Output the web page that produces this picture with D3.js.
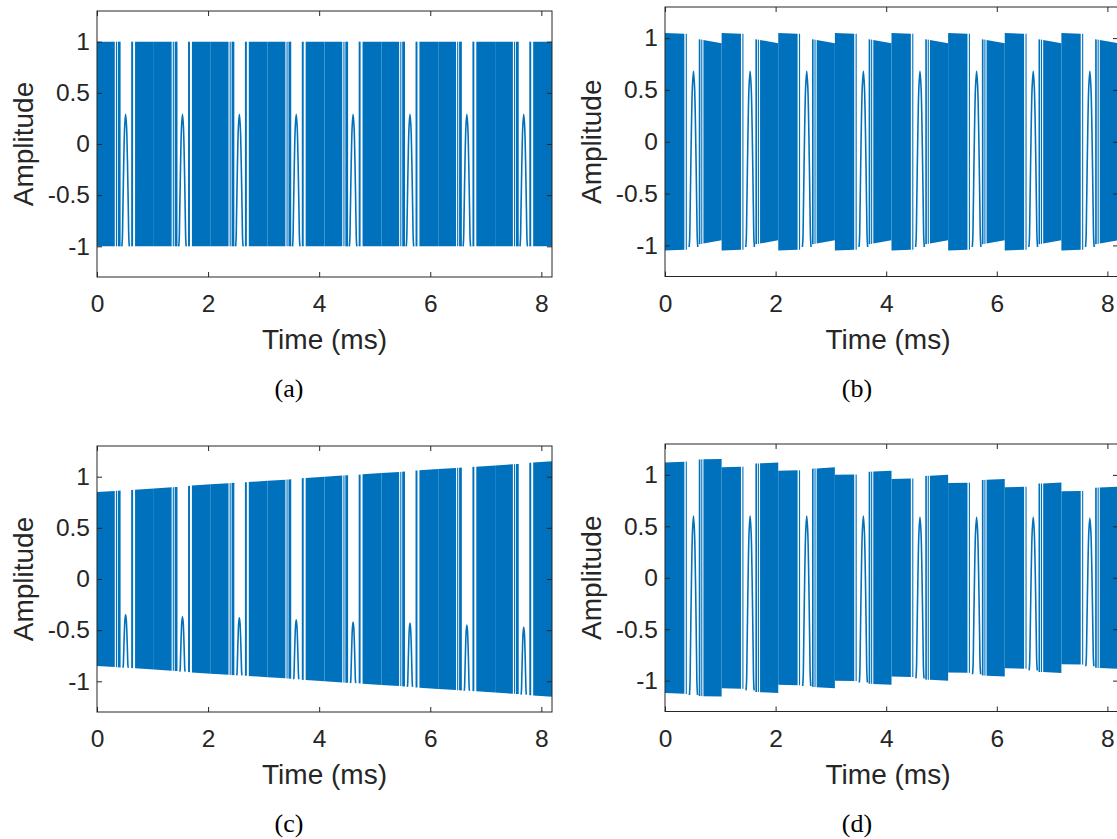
<!DOCTYPE html>
<html><head><meta charset="utf-8">
<script src="https://cdn.jsdelivr.net/npm/d3@7"></script>
<style>body{margin:0;background:#fff} svg{display:block}</style>
</head><body>
<svg id="c" width="1117" height="839"></svg>
<script>
// ---------------- data ----------------
const periodStarts = [0, 1.024, 2.048, 3.072, 4.096, 5.12, 6.144, 7.168];
const xDomain = [0, 8.192];
const yDomain = [-1.3, 1.3];
const xTicks = [0, 2, 4, 6, 8];
const xTickLabels = ["0", "2", "4", "6", "8"];
const yTicks = [-1, -0.5, 0, 0.5, 1];
const yTickLabels = ["-1", "-0.5", "0", "0.5", "1"];
const panelLetters = ["(a)", "(b)", "(c)", "(d)"];
const xLabel = "Time (ms)";
const yLabel = "Amplitude";

// offsets (ms from period start) where the dense trace fills the band
const bandSegmentsAC = [[0, 0.32], [0.34, 0.36], [0.375, 0.425], [0.615, 0.65], [0.685, 1.024]];
const bandSegmentsBD = [[0, 0.35], [0.375, 0.395], [0.61, 0.64], [0.655, 0.675], [0.695, 1.024]];
// the gap around the slow part of each sweep (ms from period start)
const gapEdges = [0.43, 0.61];
const lobeOffset = 0.515;

// envelope per period: [period start, before gap, after gap, period end]
const ampA = [[1,1,1,1],[1,1,1,1],[1,1,1,1],[1,1,1,1],[1,1,1,1],[1,1,1,1],[1,1,1,1],[1,1,1,1]];
const ampB = [[1.05,1.04,0.99,0.95],[1.05,1.04,0.99,0.95],[1.05,1.04,0.99,0.95],[1.05,1.04,0.99,0.95],
              [1.05,1.04,0.99,0.95],[1.05,1.04,0.99,0.95],[1.05,1.04,0.99,0.95],[1.05,1.04,0.99,0.95]];
const ampC = [[0.85,0.865,0.87,0.885],[0.885,0.90,0.91,0.925],[0.925,0.94,0.945,0.96],[0.96,0.975,0.985,1.0],
              [1.0,1.015,1.02,1.035],[1.035,1.05,1.06,1.075],[1.075,1.09,1.095,1.11],[1.11,1.125,1.135,1.15]];
const ampD = [[1.12,1.13,1.15,1.155],[1.075,1.08,1.11,1.12],[1.04,1.045,1.06,1.075],[1.0,1.005,1.03,1.04],
              [0.96,0.965,0.99,1.0],[0.92,0.925,0.95,0.96],[0.88,0.885,0.915,0.925],[0.84,0.845,0.875,0.885]];

// peak value of the slow lobe inside each gap
const lobePeakA = [0.29, 0.29, 0.29, 0.29, 0.29, 0.29, 0.29, 0.29];
const lobePeakB = [0.68, 0.68, 0.68, 0.68, 0.68, 0.68, 0.68, 0.68];
const lobePeakC = [-0.35, -0.37, -0.38, -0.40, -0.42, -0.43, -0.45, -0.47];
const lobePeakD = [0.60, 0.60, 0.60, 0.60, 0.59, 0.59, 0.59, 0.58];
// lobe half-widths (ms)
const lobeHalfWidth = [0.067, 0.078, 0.047, 0.073];
// lobe outline: [relative time, relative height]
const lobeProfile = [[-1,0],[-0.88,0.05],[-0.75,0.24],[-0.5,0.64],[-0.25,0.91],[0,1],
                     [0.25,0.91],[0.5,0.64],[0.75,0.24],[0.88,0.05],[1,0]];

// ---------------- layout ----------------
const BLUE = "#0072BD", AX = "#262626";
const FONT = "'Liberation Sans', Arial, Helvetica, sans-serif";
const panels = [
  {box: {L: 97,  R: 552,  T: 11,  B: 277},   amp: ampA, peaks: lobePeakA, seg: bandSegmentsAC},
  {box: {L: 665, R: 1118, T: 7,   B: 276.5}, amp: ampB, peaks: lobePeakB, seg: bandSegmentsBD},
  {box: {L: 97,  R: 552,  T: 446, B: 712},   amp: ampC, peaks: lobePeakC, seg: bandSegmentsAC},
  {box: {L: 665, R: 1118, T: 444, B: 711.5}, amp: ampD, peaks: lobePeakD, seg: bandSegmentsBD}
];

const svg = d3.select("#c");
svg.append("rect").attr("width", 1117).attr("height", 839).attr("fill", "#fff");

panels.forEach((p, i) => {
  const {L, R, T, B} = p.box;
  const x = d3.scaleLinear().domain(xDomain).range([L, R]);
  const y = d3.scaleLinear().domain(yDomain).range([B, T]);
  const g = svg.append("g");
  const clipId = "clip" + i;
  svg.append("clipPath").attr("id", clipId).append("rect")
    .attr("x", L).attr("y", T).attr("width", R - L).attr("height", B - T);
  const plot = g.append("g").attr("clip-path", `url(#${clipId})`);

  const area = d3.area().x(d => x(d.t)).y0(d => y(-d.a)).y1(d => y(d.a));
  const line = d3.line().x(d => x(d.t)).y(d => y(d.v)).curve(d3.curveCatmullRom);

  periodStarts.forEach((t0, k) => {
    const a = p.amp[k];
    const part1 = d3.scaleLinear().domain([0, gapEdges[0]]).range([a[0], a[1]]);
    const part2 = d3.scaleLinear().domain([gapEdges[1], 1.024]).range([a[2], a[3]]);
    const env = s => (s < 0.5 ? part1(s) : part2(s));
    p.seg.forEach(([s0, s1]) => {
      const pts = [{t: t0 + s0, a: env(s0)}, {t: Math.min(t0 + s1, xDomain[1]), a: env(s1)}];
      plot.append("path").attr("d", area(pts)).attr("fill", BLUE);
    });
    // slow lobe inside the gap
    const foot = -(a[1] + a[2]) / 2;
    const peak = p.peaks[k];
    const hw = lobeHalfWidth[i];
    const tc = t0 + lobeOffset;
    const lp = lobeProfile.map(([u, f]) => ({t: tc + u * hw, v: foot + f * (peak - foot)}));
    plot.append("path").attr("d", line(lp)).attr("fill", "none")
      .attr("stroke", BLUE).attr("stroke-width", 1.6);
  });

  // axes
  const ax = g.append("g").attr("font-family", FONT);
  const bottom = ax.append("g").attr("transform", `translate(0,${B})`)
    .call(d3.axisBottom(x).tickValues(xTicks).tickFormat((d, j) => xTickLabels[j])
      .tickSizeInner(-5).tickSizeOuter(0).tickPadding(18));
  const top = ax.append("g").attr("transform", `translate(0,${T})`)
    .call(d3.axisTop(x).tickValues(xTicks).tickFormat("").tickSizeInner(-5).tickSizeOuter(0));
  const left = ax.append("g").attr("transform", `translate(${L},0)`)
    .call(d3.axisLeft(y).tickValues(yTicks).tickFormat((d, j) => yTickLabels[j])
      .tickSizeInner(-5).tickSizeOuter(0).tickPadding(7));
  const right = ax.append("g").attr("transform", `translate(${R},0)`)
    .call(d3.axisRight(y).tickValues(yTicks).tickFormat("").tickSizeInner(-5).tickSizeOuter(0));
  [bottom, top, left, right].forEach(a => {
    a.select(".domain").remove();
    a.selectAll("line").attr("stroke", AX).attr("stroke-width", 1);
    a.selectAll("text").attr("fill", AX).attr("font-size", 24.5).attr("font-family", FONT);
  });
  ax.append("rect").attr("x", L).attr("y", T).attr("width", R - L).attr("height", B - T)
    .attr("fill", "none").attr("stroke", AX).attr("stroke-width", 1);

  // labels
  g.append("text").attr("x", (L + Math.min(R, 1117)) / 2 + (i % 2 ? -3 : 0)).attr("y", B + 72)
    .attr("text-anchor", "middle").attr("font-family", FONT).attr("font-size", 28)
    .attr("fill", AX).text(xLabel);
  g.append("text").attr("transform", `translate(${L - 63.6},${(T + B) / 2}) rotate(-90)`)
    .attr("text-anchor", "middle").attr("font-family", FONT).attr("font-size", 28)
    .attr("fill", AX).text(yLabel);
  g.append("text").attr("x", L + 192).attr("y", B + 120)
    .attr("text-anchor", "middle").attr("font-family", "'Liberation Serif', 'Times New Roman', serif")
    .attr("font-size", 26).attr("fill", "#000").text(panelLetters[i]);
});
</script>
</body></html>
